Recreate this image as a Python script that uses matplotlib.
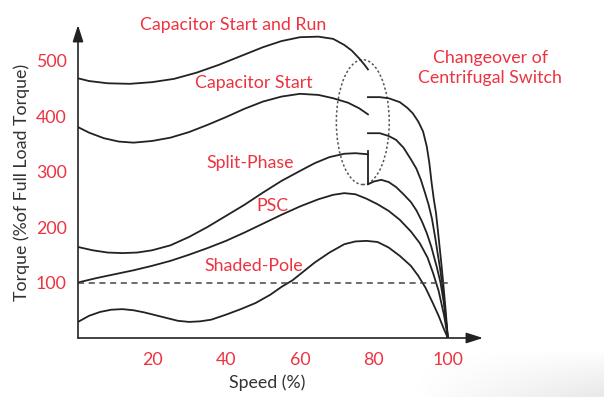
import matplotlib
matplotlib.use("Agg")
import matplotlib.pyplot as plt
import numpy as np
from matplotlib.patches import Ellipse

RED = "#ec3340"
INK = "#222222"

# torque curves: speed (%) -> torque (% of full load)
csr_x = [0, 3, 8, 14, 20, 26, 32, 38, 44, 50, 55, 60, 65, 69, 72, 74, 76, 77.5, 78.4]
csr_y = [468, 463, 459, 458, 461, 467, 478, 492, 508, 524, 535, 542, 543, 539, 528, 518, 504, 492, 484]
csr_run_x = [78.4, 81.6, 84, 87, 89, 90.5, 92, 93.3, 94.3, 95, 95.6, 96.2, 96.8, 97.6, 98.3, 98.8, 99.4, 100]
csr_run_y = [434, 434, 432, 425, 415, 405, 390, 372, 345, 315, 280, 250, 225, 175, 130, 95, 50, 0]

cs_x = [0, 3, 7, 11, 15, 20, 25, 30, 35, 40, 45, 50, 55, 60, 65, 69, 73, 76, 78.4]
cs_y = [380, 370, 360, 354, 352, 355, 361, 371, 384, 398, 413, 426, 435, 440, 438, 432, 424, 414, 403]
cs_run_x = [78.4, 81.6, 84, 86, 88, 90, 91.5, 92.7, 93.8, 94.8, 95.7, 96.6, 97.3, 97.9, 98.6, 99.3, 100]
cs_run_y = [369, 369, 364, 357, 343, 322, 305, 285, 262, 240, 215, 180, 150, 125, 90, 45, 0]

sp_x = [0, 4, 8, 12, 16, 20, 25, 30, 35, 40, 45, 50, 55, 60, 64, 68, 72, 75, 78.4]
sp_y = [164, 158, 154, 153, 154, 158, 167, 182, 200, 220, 240, 262, 283, 301, 315, 326, 332, 333, 331]
sp_jump_x = [78.4, 78.4]
sp_jump_y = [337, 277]
sp_run_x = [78.4, 80, 82, 84, 86, 88, 90, 91.5, 93, 94.3, 95.5, 97, 98, 99, 100]
sp_run_y = [277, 282, 285, 281, 272, 259, 245, 230, 210, 189, 165, 128, 100, 60, 0]

psc_x = [0, 5, 10, 15, 20, 25, 30, 35, 40, 45, 50, 55, 60, 65, 69, 72, 75, 78, 81, 84, 87, 90, 92.4, 94.5, 96, 97.5, 99, 100]
psc_y = [100, 108, 115, 122, 130, 139, 150, 162, 175, 190, 206, 222, 237, 250, 258, 261, 259, 251, 241, 229, 213, 192, 171, 145, 117, 85, 40, 0]

shp_x = [0, 3, 6, 9, 12, 15, 18, 21, 24, 27, 30, 33, 36, 40, 44, 48, 52, 55, 58, 61, 64, 68, 72, 75, 78, 81,
         84, 87, 90, 92, 94, 96, 97.5, 99, 100]
shp_y = [29, 40, 47, 51, 52, 50, 46, 41, 36, 31, 29, 30, 33, 42, 52, 63, 78, 92, 104, 120, 136, 154, 169, 174, 175, 173,
         163, 148, 130, 112, 90, 62, 40, 15, 0]

curve_names = ["Capacitor Start and Run", "Capacitor Start", "Split-Phase", "PSC", "Shaded-Pole"]
name_x = [42, 47.6, 46.5, 52.6, 47.6]
name_y = [555, 451, 306, 229, 121]

full_load = 100
x_ticks = [20, 40, 60, 80, 100]
y_ticks = [100, 200, 300, 400, 500]

plt.rcParams["font.family"] = ["Lato", "DejaVu Sans"]
FS = 12.8

fig = plt.figure(figsize=(6.04, 3.97), dpi=100)

# faint screen shadow in the lower right corner
bg = fig.add_axes([0, 0, 1, 1], zorder=-1)
gx, gy = np.meshgrid(np.linspace(0, 1, 200), np.linspace(0, 1, 200))
shade = np.clip((gx - 0.68) / 0.32, 0, 1) * np.clip((0.12 - gy) / 0.12, 0, 1)
bg.imshow(1 - 0.09 * shade, cmap="gray", vmin=0, vmax=1, origin="lower", extent=[0, 1, 0, 1], aspect="auto")
bg.axis("off")

ax = fig.add_axes([78 / 604, 59 / 397, 405 / 604, 313 / 397])
ax.patch.set_alpha(0)
ax.set_xlim(0, 109.5)
ax.set_ylim(0, 564)
for s in ax.spines.values():
    s.set_visible(False)

# axes with arrow heads
arrow = dict(arrowstyle="-|>,head_length=1.0,head_width=0.32", color=INK, lw=1.2, shrinkA=0, shrinkB=0)
ax.annotate("", xy=(109.5, 0), xytext=(0, 0), arrowprops=arrow, annotation_clip=False)
ax.annotate("", xy=(0, 564), xytext=(0, 0), arrowprops=arrow, annotation_clip=False)

lw = 1.3
ax.plot(csr_x, csr_y, color=INK, lw=lw)
ax.plot(csr_run_x, csr_run_y, color=INK, lw=lw)
ax.plot(cs_x, cs_y, color=INK, lw=lw)
ax.plot(cs_run_x, cs_run_y, color=INK, lw=lw)
ax.plot(sp_x, sp_y, color=INK, lw=lw)
ax.plot(sp_jump_x, sp_jump_y, color=INK, lw=lw)
ax.plot(sp_run_x, sp_run_y, color=INK, lw=lw)
ax.plot(psc_x, psc_y, color=INK, lw=lw)
ax.plot(shp_x, shp_y, color=INK, lw=lw)

ax.plot([0, 100.5], [full_load, full_load], color="#444444", lw=1.1, ls=(0, (4, 3)))

# changeover region
ax.add_patch(Ellipse((77, 389), 14.3, 225, fill=False, ec="#555555", lw=1.1, ls=(0, (1.5, 1.5))))

for name, x, y in zip(curve_names, name_x, name_y):
    ax.text(x, y, name, color=RED, fontsize=FS, ha="center", va="baseline")
ax.text(111.4, 496, "Changeover of", color=RED, fontsize=FS, ha="center", va="baseline")
ax.text(111.4, 460, "Centrifugal Switch", color=RED, fontsize=FS, ha="center", va="baseline")

ax.set_xticks(x_ticks)
ax.set_yticks(y_ticks)
ax.tick_params(length=0, labelsize=FS, labelcolor=RED)
ax.tick_params(axis="x", pad=10)
ax.tick_params(axis="y", pad=8)

fig.text(267 / 604, 1 - 383 / 397, "Speed (%)", color="#333333", fontsize=FS, ha="center", va="center")
fig.text(21.7 / 604, 1 - 182 / 397, "Torque (%of Full Load Torque)", color="#333333", fontsize=FS,
         ha="center", va="center", rotation=90)

fig.savefig("out.png", dpi=100, facecolor="white")
